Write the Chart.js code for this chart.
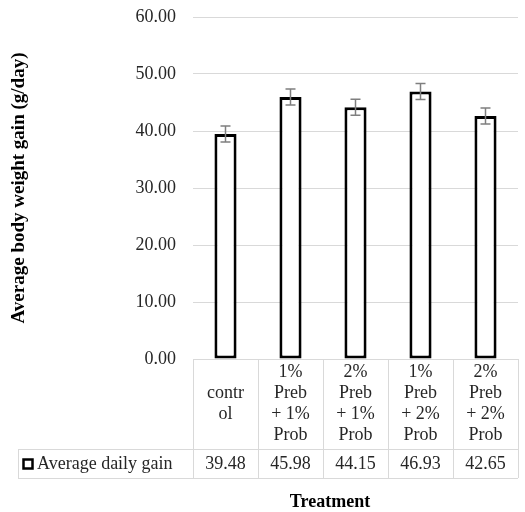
<!DOCTYPE html>
<html>
<head>
<meta charset="utf-8">
<script src="https://cdn.jsdelivr.net/npm/chart.js@4/dist/chart.umd.min.js"></script>
<style>
  body { margin: 0; background: #fff; }
  canvas { display: block; }
</style>
</head>
<body>
<canvas id="gainChart" width="525" height="512"></canvas>
<script>
// data
const categories = [
  ['contr', 'ol'],
  ['1%', 'Preb', '+ 1%', 'Prob'],
  ['2%', 'Preb', '+ 1%', 'Prob'],
  ['1%', 'Preb', '+ 2%', 'Prob'],
  ['2%', 'Preb', '+ 2%', 'Prob']
];
const seriesName = 'Average daily gain';
const gainValues = [39.48, 45.98, 44.15, 46.93, 42.65];
const errorValues = [1.4, 1.4, 1.4, 1.4, 1.4];
const yTitle = 'Average body weight gain (g/day)';
const xTitle = 'Treatment';

const serif = '"Liberation Serif", "Times New Roman", serif';
const textColor = '#262626';
const gridColor = '#d9d9d9';

// error bars + data table under the plot
const tablePlugin = {
  id: 'tablePlugin',
  afterDatasetsDraw(chart) {
    const ctx = chart.ctx;
    const xs = chart.scales.x;
    const ys = chart.scales.y;
    ctx.save();
    ctx.strokeStyle = '#7f7f7f';
    ctx.lineWidth = 1.5;
    gainValues.forEach((v, i) => {
      const x = xs.getPixelForValue(i);
      const top = ys.getPixelForValue(v + errorValues[i]);
      const bot = ys.getPixelForValue(v - errorValues[i]);
      ctx.beginPath();
      ctx.moveTo(x, top); ctx.lineTo(x, bot);
      ctx.moveTo(x - 5, top); ctx.lineTo(x + 5, top);
      ctx.moveTo(x - 5, bot); ctx.lineTo(x + 5, bot);
      ctx.stroke();
    });
    ctx.restore();
  },
  afterDraw(chart) {
    const ctx = chart.ctx;
    const area = chart.chartArea;
    const xs = chart.scales.x;
    const n = categories.length;
    const colW = (area.right - area.left) / n;
    const headBottom = 449;
    const rowBottom = 478;
    const tableLeft = 18;

    ctx.save();
    ctx.strokeStyle = gridColor;
    ctx.lineWidth = 1;
    ctx.beginPath();
    for (let i = 0; i <= n; i++) {
      const x = Math.round(area.left + i * colW) + 0.5;
      ctx.moveTo(x, area.bottom);
      ctx.lineTo(x, rowBottom);
    }
    ctx.moveTo(tableLeft + 0.5, headBottom);
    ctx.lineTo(tableLeft + 0.5, rowBottom);
    ctx.moveTo(tableLeft, headBottom + 0.5);
    ctx.lineTo(area.right, headBottom + 0.5);
    ctx.moveTo(tableLeft, rowBottom + 0.5);
    ctx.lineTo(area.right, rowBottom + 0.5);
    ctx.stroke();

    ctx.fillStyle = textColor;
    ctx.font = '18px ' + serif;
    ctx.textAlign = 'center';
    ctx.textBaseline = 'middle';
    const lh = 21;
    const midHead = (area.bottom + headBottom) / 2;
    categories.forEach((lines, i) => {
      const x = xs.getPixelForValue(i);
      const y0 = midHead - (lines.length - 1) * lh / 2;
      lines.forEach((t, k) => ctx.fillText(t, x, y0 + k * lh));
    });

    const rowMid = (headBottom + rowBottom) / 2 + 1;
    gainValues.forEach((v, i) => {
      ctx.fillText(v.toFixed(2), xs.getPixelForValue(i), rowMid);
    });

    // legend key
    ctx.strokeStyle = '#000';
    ctx.lineWidth = 2.5;
    ctx.strokeRect(23.5, rowMid - 5, 9, 9);
    ctx.textAlign = 'left';
    ctx.fillText(seriesName, 37, rowMid);

    ctx.fillStyle = '#000';
    ctx.font = 'bold 18px ' + serif;
    ctx.textAlign = 'center';
    ctx.fillText(xTitle, 330, 502);
    ctx.restore();
  }
};

const ctx = document.getElementById('gainChart').getContext('2d');
const gainChart = new Chart(ctx, {
  type: 'bar',
  data: {
    labels: categories,
    datasets: [{
      label: seriesName,
      data: gainValues,
      backgroundColor: '#ffffff',
      borderColor: '#000000',
      borderWidth: 3,
      borderSkipped: false,
      barPercentage: 0.34,
      categoryPercentage: 1
    }]
  },
  options: {
    responsive: false,
    animation: false,
    layout: { padding: { top: 17, right: 7, bottom: 153, left: 0 } },
    plugins: {
      legend: { display: false },
      tooltip: { enabled: false }
    },
    scales: {
      x: { display: false },
      y: {
        min: 0,
        max: 60,
        ticks: {
          stepSize: 10,
          padding: 17,
          color: textColor,
          font: { family: serif, size: 18 },
          callback: v => v.toFixed(2)
        },
        grid: { color: gridColor, drawTicks: false },
        border: { display: false },
        title: {
          display: true,
          text: yTitle,
          color: '#000',
          font: { family: serif, size: 19, weight: 'bold' },
          padding: { top: 8, bottom: 0 }
        },
        afterFit(scale) {
          scale.width = 193;
          scale.paddingTop = 0;
          scale.paddingBottom = 0;
        }
      }
    }
  },
  plugins: [tablePlugin]
});
</script>
</body>
</html>
